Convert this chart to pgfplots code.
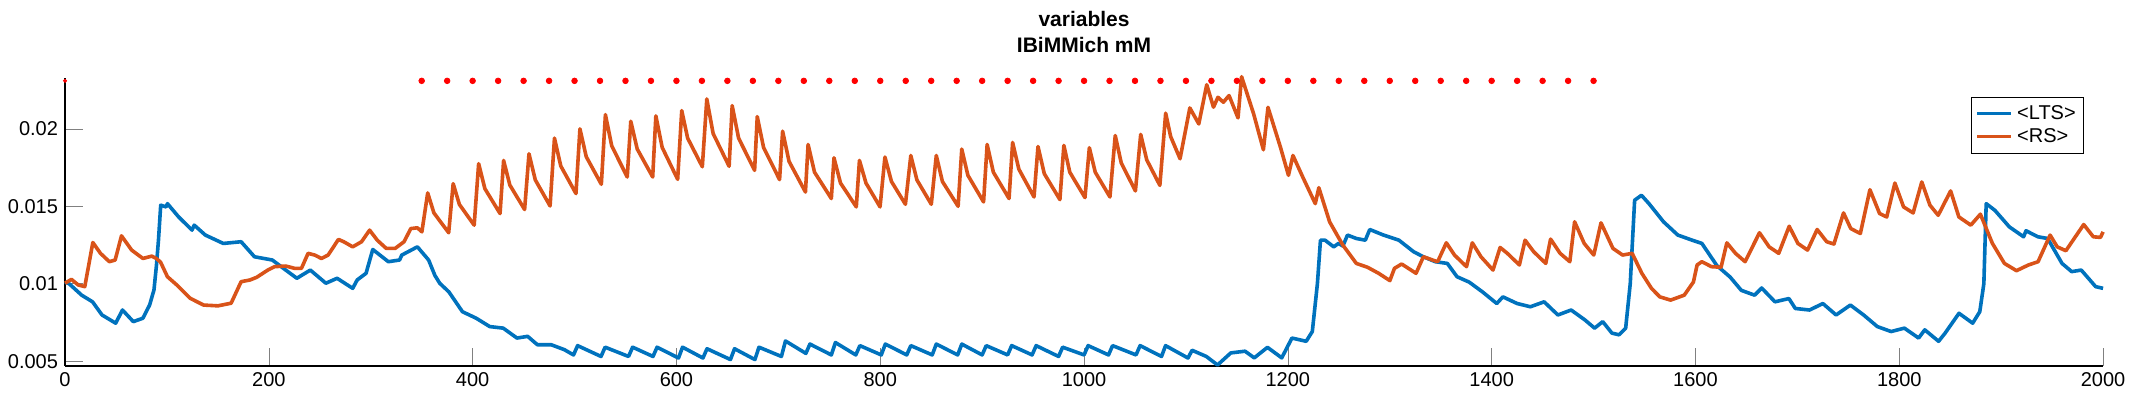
\documentclass[border=0pt]{standalone}
\usepackage{fontspec}
\setmainfont{Liberation Sans}
\usepackage{pgfplots}
\pgfplotsset{compat=1.18}
\definecolor{mblue}{RGB}{0,114,189}
\definecolor{morange}{RGB}{217,83,25}
\begin{document}
\begin{tikzpicture}
\begin{axis}[
  width=1019pt, height=144pt, scale only axis,
  xmin=0, xmax=2000, ymin=0.0047, ymax=0.0233,
  axis lines=left, axis line style={-, thick},
  xtick={0,200,...,2000},
  ytick={0.005,0.01,0.015,0.02},
  yticklabels={0.005,0.01,0.015,0.02},
  scaled y ticks=false,
  /pgf/number format/1000 sep={},
  /pgf/number format/assume math mode=true,
  tick align=inside, major tick length=9pt,
  tick label style={font=\fontsize{10}{12}\selectfont},
  title={\textbf{variables}\\\textbf{IBiMMich mM}},
  title style={font=\fontsize{10.5}{13}\selectfont, align=center, yshift=3pt},
  clip=false,
  legend style={at={(rel axis cs:0.9907,0.934)}, anchor=north east, draw=black, font=\fontsize{10}{12}\selectfont, inner sep=2pt, row sep=-1pt},
  legend cell align=left,
  legend image post style={line width=1.8pt},
]
\path (rel axis cs:-0.0319,-0.118) rectangle (rel axis cs:1.0147,1.27);
\addplot[mblue, line width=1.8pt, line join=round] coordinates {
(0,0.0101)(4,0.0100)(16.3,0.00926)(27,0.00883)(36.3,0.00798)(49.7,0.00745)(56.4,0.0083)(67,0.00755)(76.4,0.00777)(83,0.00862)(87.3,0.0096)(89.7,0.01117)(91.7,0.01281)(93.9,0.01507)(99.2,0.01496)(100.5,0.01517)(111.4,0.01432)(124.6,0.01346)(126.8,0.01378)(137.7,0.01314)(155.3,0.0126)(172.8,0.01271)(185.9,0.01174)(203.4,0.01153)(216.6,0.01088)(227.5,0.01035)(240.7,0.01088)(256,0.01003)(267,0.01035)(282.3,0.0097)(286.7,0.01024)(295.4,0.01067)(302,0.01221)(317.3,0.01142)(328.3,0.01153)(330.5,0.01185)(345.8,0.01238)(356.8,0.01153)(363,0.01053)(367.7,0.01003)(376.7,0.00947)(390,0.00819)(403.5,0.00777)(416.8,0.00723)(430,0.00713)(443.5,0.00649)(454,0.0066)(463.5,0.00606)(477,0.00606)(490,0.00574)
(499,0.0054)(503,0.0060)(526,0.0053)(530,0.0059)(553,0.0053)(557,0.0059)(577,0.0053)(581,0.0059)(602,0.0052)(606,0.0059)(626,0.0052)(630,0.0058)(653,0.0051)(657,0.0058)(677,0.0051)(681,0.0059)(703,0.0053)(707,0.0063)(727,0.0055)(731,0.0061)(752,0.0054)(756,0.0062)(776,0.0054)(780,0.0060)(801,0.0054)(805,0.0061)(826,0.0054)(830,0.0060)(851,0.0054)(855,0.0061)(876,0.0054)(880,0.0061)(900,0.0054)(904,0.0060)(925,0.0054)(929,0.0060)(949,0.0054)(953,0.0060)(975,0.0053)(979,0.0059)(1000,0.0054)(1004,0.0060)(1024,0.0054)(1028,0.0060)(1051,0.0054)(1055,0.0060)(1076,0.0053)(1080,0.0060)(1102,0.0052)(1106,0.0057)(1120,0.0053)(1131,0.00475)(1144,0.00553)(1158,0.00564)(1167,0.00521)(1180,0.00589)(1194,0.00521)(1204,0.00649)(1218,0.00628)(1224,0.00691)(1229,0.0100)(1232,0.01281)(1236.5,0.01281)(1245,0.01238)(1249.7,0.0126)(1254,0.01243)(1258.5,0.01314)(1267.2,0.01292)(1276,0.01281)(1280.4,0.0135)(1293.5,0.01315)(1309,0.01281)(1323.5,0.01206)(1333,0.01174)(1344.7,0.01142)(1356.5,0.01131)(1366,0.01045)(1378,0.0101)(1391,0.00947)(1405,0.00872)(1411,0.00915)(1425,0.00872)(1438,0.00851)(1451.5,0.00883)(1465,0.00798)(1478,0.0083)(1491.5,0.00766)(1501,0.00713)(1509,0.00755)(1518,0.00681)(1525,0.0067)(1531.5,0.00713)(1536,0.0100)(1540.3,0.01539)(1547,0.01571)(1554.4,0.01517)(1568.6,0.014)(1582.7,0.01314)(1596.8,0.01281)(1606.3,0.0126)(1621,0.01117)(1634,0.01043)(1645,0.00957)(1658,0.00926)(1665,0.00972)(1678,0.00883)(1691.7,0.00904)(1698,0.0084)(1712,0.0083)(1725,0.00872)(1738,0.00798)(1752,0.00862)(1765,0.00798)(1778.5,0.00723)(1792,0.00691)(1805,0.00713)(1819,0.00649)(1825,0.00702)(1838.6,0.00628)(1845,0.00681)(1858.6,0.00809)(1872,0.00745)(1879,0.00819)(1883,0.0100)(1885.3,0.01517)(1893.8,0.01474)(1908,0.01367)(1922,0.01303)(1924.4,0.01342)(1936,0.01303)(1945.6,0.01292)(1959.7,0.01131)(1969.2,0.01078)(1978.6,0.01088)(1992.7,0.00981)(2000,0.0097)
};
\addlegendentry{<LTS>}
\addplot[morange, line width=1.8pt, line join=round] coordinates {
(0,0.01003)(6.3,0.01028)(12.9,0.00992)(19.4,0.00981)(27.3,0.01266)(34.8,0.01196)(43.5,0.01142)(49.2,0.01153)(55.4,0.01309)(65.4,0.01217)(76.4,0.01163)(85.2,0.01178)(89.5,0.01163)(93.7,0.0114)(100.5,0.01045)(110,0.00990)(123,0.00905)(136,0.00862)(150,0.00857)(163,0.00874)(172.8,0.01013)(181.5,0.01024)(188,0.01041)(199,0.01088)(205.6,0.0111)(216.6,0.01114)(225.4,0.01099)(232,0.01099)(238.5,0.01196)(245,0.01185)(251.6,0.01163)(258.2,0.01185)(268.3,0.01286)(273.5,0.01271)(282.3,0.01238)(291,0.01271)(298.9,0.01346)(306.4,0.01281)(315.2,0.01228)(324,0.01228)(332.7,0.01271)(339.3,0.01356)(345.8,0.01361)(350.2,0.01335)
(355.9,0.01586)(362,0.01457)(376.5,0.01329)(380.9,0.01646)(387,0.01512)(401.5,0.01378)(405.9,0.01775)(412,0.01614)(426.9,0.01453)(430.4,0.01796)(436.5,0.01637)(451,0.01479)(455.3,0.01839)(461.5,0.0167)(476,0.01502)(480.3,0.0194)(486.5,0.0176)(501.4,0.01582)(505.3,0.0200)(511.5,0.0182)(526.3,0.01642)(530.3,0.02092)(536.5,0.0189)(551.7,0.01689)(555.2,0.02049)(561.5,0.0187)(576.7,0.01689)(579.8,0.02084)(586,0.0188)(601.2,0.01674)(605.2,0.02118)(611,0.0194)(625.4,0.01755)(629.8,0.02193)(636,0.0197)(651.7,0.01758)(654.7,0.0215)(661,0.0194)(676.7,0.01732)(679.3,0.02079)(685.5,0.0188)(701.2,0.01672)(704.2,0.01985)(710.5,0.0179)(726.6,0.01592)(729.2,0.01899)(735.5,0.0172)(752,0.0155)(754.6,0.01813)(761,0.0165)(776.5,0.01496)(779.6,0.01796)(786,0.0165)(799.8,0.01496)(804.6,0.01818)(811,0.0166)(824.7,0.01513)(830,0.01828)(836,0.0167)(850.1,0.01513)(855,0.01828)(861,0.0166)(876.4,0.0150)(880,0.01869)(886,0.0170)(901.4,0.01528)(904.9,0.01899)(911,0.0172)(926.4,0.0155)(929.9,0.01912)(936,0.0174)(950.9,0.0156)(954.8,0.01886)(961,0.0171)(976.3,0.01543)(980.2,0.01893)(986,0.0172)(1000.9,0.01556)(1005.2,0.01878)(1011,0.0172)(1025.4,0.0156)(1030.6,0.01957)(1036.5,0.0178)(1050.4,0.01599)(1055.6,0.01964)(1061.5,0.0180)(1074.4,0.01635)(1080.1,0.02101)(1085,0.0195)(1094.2,0.01807)(1103.8,0.02135)(1112.6,0.02032)(1120.4,0.02285)(1127,0.0214)(1131.4,0.02204)(1136.7,0.02172)(1142.3,0.02215)(1151.1,0.02071)(1154.6,0.02337)(1166.4,0.02097)(1176,0.01865)(1180.5,0.02139)(1192.7,0.01882)(1200.6,0.0170)(1205,0.01828)(1214.6,0.01689)(1226.9,0.01517)(1230.4,0.0162)(1241,0.01399)(1254,0.01249)(1267.2,0.01131)(1278.2,0.01106)(1289.1,0.01067)(1300.1,0.0102)(1304.6,0.01099)(1311.7,0.01127)(1325.8,0.01067)(1333,0.01174)(1342,0.01153)(1347,0.01142)(1355.5,0.01264)(1363.5,0.01185)(1375.3,0.0111)(1381,0.01264)(1389.5,0.01174)(1401.3,0.01088)(1408.3,0.01234)(1415.4,0.01196)(1427.2,0.01121)(1432.8,0.01281)(1441.3,0.01206)(1453.1,0.01131)(1457.8,0.01288)(1467.2,0.01196)(1476.7,0.01142)(1481.4,0.0140)(1490.8,0.0126)(1500.2,0.01185)(1507.3,0.01393)(1519,0.01228)(1528.5,0.01185)(1537.9,0.01196)(1547.4,0.01067)(1556.8,0.0097)(1565,0.00915)(1575.6,0.00894)(1589,0.00926)(1598,0.01011)(1601.6,0.01121)(1606.3,0.01142)(1615.7,0.0111)(1625.1,0.01106)(1630.8,0.01264)(1639.3,0.01196)(1648.7,0.01142)(1662.8,0.01329)(1672.3,0.01238)(1681.7,0.01196)(1692,0.01371)(1700.5,0.0126)(1710,0.01217)(1719.4,0.0135)(1728.8,0.01271)(1735.9,0.01256)(1745.3,0.01457)(1752.4,0.01356)(1761.8,0.01324)(1771.2,0.01607)(1780.7,0.01453)(1787.7,0.01431)(1795.7,0.0165)(1804.2,0.01496)(1813.6,0.01457)(1822.1,0.01657)(1830.1,0.01507)(1838.2,0.01442)(1850.4,0.01599)(1858.5,0.01431)(1870.2,0.01378)(1879.6,0.01449)(1891.4,0.0126)(1903.2,0.01131)(1915,0.01084)(1926.8,0.01121)(1936.2,0.01142)(1948,0.01314)(1955,0.01238)(1963.5,0.01213)(1981,0.01382)(1990.4,0.01303)(1997.5,0.01299)(2000,0.01335)
};
\addlegendentry{<RS>}
\addplot[only marks, mark=*, mark size=1.4pt, red, forget plot] coordinates {
(350,0.0231)(375,0.0231)(400,0.0231)(425,0.0231)(450,0.0231)(475,0.0231)(500,0.0231)(525,0.0231)(550,0.0231)(575,0.0231)(600,0.0231)(625,0.0231)(650,0.0231)(675,0.0231)(700,0.0231)(725,0.0231)(750,0.0231)(775,0.0231)(800,0.0231)(825,0.0231)(850,0.0231)(875,0.0231)(900,0.0231)(925,0.0231)(950,0.0231)(975,0.0231)(1000,0.0231)(1025,0.0231)(1050,0.0231)(1075,0.0231)(1100,0.0231)(1125,0.0231)(1150,0.0231)(1175,0.0231)(1200,0.0231)(1225,0.0231)(1250,0.0231)(1275,0.0231)(1300,0.0231)(1325,0.0231)(1350,0.0231)(1375,0.0231)(1400,0.0231)(1425,0.0231)(1450,0.0231)(1475,0.0231)(1500,0.0231)
};
\addplot[only marks, mark=*, mark size=0.8pt, red, forget plot] coordinates {(0,0.0231)};
\end{axis}
\end{tikzpicture}
\end{document}
